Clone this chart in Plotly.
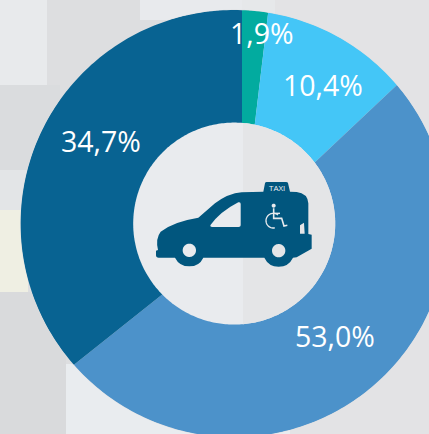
import math
import plotly.graph_objects as go

# Printed labels, and the shares of the ring that each arc takes up in the picture
labels = ["1,9%", "10,4%", "53,0%", "34,7%"]
arc_shares = [1.9, 11.07, 51.33, 35.7]
colors = ["#02ab9f", "#44c6f7", "#4c92ca", "#086392"]

W, H = 484, 460
APEX_X, APEX_Y, PIE_R = 242, 231, 226      # where the seams of the slices meet
CX, CY, R = 234.2, 223.6, 213.6            # the outer edge of the ring
HOLE_R = 101
TAXI = "#01567e"
HOLE = "#e9ebee"
HOLE_SHADE = "#e4e5e7"
BASE = "#dddee0"


def px(x):
    return x / W


def py(y):
    return 1 - y / H


def zx(x):
    return px(130 + x / 3)


def zy(y):
    return py(150 + y / 3)


def poly(points, color=None, layer="above", line=None, closed=True):
    """Polygon or polyline through pixel points."""
    d = "M" + "L".join(f"{px(x):.5f},{py(y):.5f}" for x, y in points) + ("Z" if closed else "")
    s = dict(type="path", xref="paper", yref="paper", layer=layer, path=d)
    if line:
        s["line"] = dict(color=line[0], width=line[1])
    else:
        s["line_width"] = 0
    if color:
        s["fillcolor"] = color
    return s


def ring_points(cx, cy, r, n=360):
    return [(cx + r * math.cos(2 * math.pi * i / n), cy + r * math.sin(2 * math.pi * i / n))
            for i in range(n)]


def outside_ring(x0, y0, x1, y1, n=120):
    """Rectangle outline with everything inside the ring pushed out to its edge."""
    pts = []
    for i in range(n):
        pts.append((x0 + (x1 - x0) * i / n, y0))
    for i in range(n):
        pts.append((x1, y0 + (y1 - y0) * i / n))
    for i in range(n):
        pts.append((x1 - (x1 - x0) * i / n, y1))
    for i in range(n):
        pts.append((x0, y1 - (y1 - y0) * i / n))
    out = []
    for x, y in pts:
        d = math.hypot(x - CX, y - CY)
        if d < R + 0.4:
            k = (R + 0.4) / d
            x, y = CX + (x - CX) * k, CY + (y - CY) * k
        out.append((x, y))
    return out


def patch(x0, y0, x1, y1, color):
    return poly(outside_ring(x0, y0, x1, y1), color)


def zpt(x, y):
    return (130 + x / 3, 150 + y / 3)


def zpath(cmds, color):
    out = ""
    for c in cmds:
        if c[0] == "Z":
            out += "Z"
        else:
            out += c[0] + " ".join(f"{zx(c[i]):.5f},{zy(c[i + 1]):.5f}" for i in range(1, len(c), 2))
    return dict(type="path", xref="paper", yref="paper", layer="above", line_width=0,
                path=out, fillcolor=color)


def disc(cx, cy, r, color):
    return poly([zpt(cx + r * math.cos(a / 30 * math.pi), cy + r * math.sin(a / 30 * math.pi))
                 for a in range(60)], color)


body = [
    ("M", 84, 300), ("L", 78, 302), ("L", 78, 316), ("Q", 78, 323, 86, 323), ("L", 135, 323),
    ("Q", 148, 349, 178, 349), ("Q", 208, 349, 220, 323), ("L", 403, 323),
    ("Q", 416, 350, 446, 350), ("Q", 476, 350, 489, 323), ("L", 500, 322),
    ("L", 545, 296), ("L", 545, 254), ("L", 535, 252), ("L", 535, 160),
    ("Q", 533, 130, 500, 126), ("L", 480, 125), ("L", 474, 99), ("Q", 473, 96, 468, 96),
    ("L", 410, 96), ("Q", 406, 96, 405, 100), ("L", 400, 125), ("L", 335, 127),
    ("Q", 295, 130, 255, 160), ("L", 205, 203), ("Q", 130, 215, 92, 245),
    ("Q", 76, 265, 84, 300), ("Z",),
]
front_window = [
    ("M", 241, 226), ("Q", 270, 185, 325, 157), ("Q", 332, 155, 332, 162), ("L", 332, 226),
    ("Q", 332, 231, 326, 231), ("L", 246, 231), ("Q", 240, 231, 241, 226), ("Z",),
]
rear_window = [("M", 510, 226), ("L", 522, 218), ("L", 524, 251), ("L", 510, 251), ("Z",)]

mask_d = (
    f"M{px(-5):.5f},{py(-5):.5f}L{px(W + 5):.5f},{py(-5):.5f}"
    f"L{px(W + 5):.5f},{py(H + 5):.5f}L{px(-5):.5f},{py(H + 5):.5f}Z"
    + "M" + "L".join(f"{px(x):.5f},{py(y):.5f}" for x, y in ring_points(CX, CY, R)) + "Z"
)
mask = dict(type="path", xref="paper", yref="paper", layer="above", line_width=0,
            path=mask_d, fillcolor=BASE, fillrule="evenodd")

hole_right = [(CX + HOLE_R * math.cos(a), CY + HOLE_R * math.sin(a))
              for a in [math.radians(t) for t in range(-85, 86)]]
hole_right = [(max(x, 242), y) for x, y in hole_right]

wheel_arc = [zpt(430 + 22 * math.cos(math.radians(t)), 212 + 22 * math.sin(math.radians(t)))
             for t in range(-50, -290, -8)]
chair = [zpt(431, 175), zpt(431, 205), zpt(455, 205), zpt(462, 228), zpt(472, 226)]
arm = [zpt(431, 190), zpt(450, 190)]

shapes = [
    mask,
    patch(0, 0, 47, 85, "#e8eaec"),
    patch(0, 85, 60, 170, "#dadcde"),
    patch(0, 170, 30, 210, "#e3e5e7"),
    patch(140, 0, 242, 20, "#e8eaed"),
    patch(242, 0, 275, 20, "#e6e8ea"),
    patch(275, 0, W, H, "#e3e3e5"),
    patch(0, 210, 28, 292, "#efefe3"),
    patch(0, 292, 66, 434, "#d9dadc"),
    patch(66, 364, 290, H, "#e9ecef"),
    poly(ring_points(CX, CY, HOLE_R), HOLE),
    poly(hole_right, HOLE_SHADE),
    zpath(body, TAXI),
    zpath(front_window, HOLE),
    zpath(rear_window, HOLE_SHADE),
    disc(178, 301, 20, HOLE),
    disc(446, 302, 20, HOLE_SHADE),
    disc(431, 167, 6, HOLE),
    poly(wheel_arc, None, line=(HOLE, 1.3), closed=False),
    poly(chair, None, line=(HOLE, 1.6), closed=False),
    poly(arm, None, line=(HOLE, 1.4), closed=False),
]

fig = go.Figure(go.Pie(
    values=arc_shares,
    labels=labels,
    marker=dict(colors=colors, line=dict(width=0)),
    sort=False,
    direction="clockwise",
    rotation=0,
    textinfo="none",
    showlegend=False,
    domain=dict(x=[px(APEX_X - PIE_R), px(APEX_X + PIE_R)],
                y=[py(APEX_Y + PIE_R), py(APEX_Y - PIE_R)]),
))

label_xy = [(262, 33), (322.5, 84.5), (335, 336), (101, 141)]
annotations = [
    dict(text=t, x=px(x), y=py(y), xref="paper", yref="paper", showarrow=False,
         xanchor="center", yanchor="middle",
         font=dict(family="Open Sans", size=28.5, color="white"))
    for t, (x, y) in zip(labels, label_xy)
]
annotations.append(dict(text="TAXI", x=zx(440), y=zy(111), xref="paper", yref="paper",
                        showarrow=False, font=dict(family="Open Sans", size=8, color="#eef0f2")))

fig.update_layout(
    width=W, height=H, autosize=False,
    margin=dict(l=0, r=0, t=0, b=0, pad=0),
    paper_bgcolor=BASE,
    shapes=shapes,
    annotations=annotations,
)

fig.write_html(
    "out.html",
    config=dict(displayModeBar=False, responsive=False),
    post_script="document.documentElement.style.overflow='hidden';document.body.style.margin='0';document.body.style.overflow='hidden';",
)
